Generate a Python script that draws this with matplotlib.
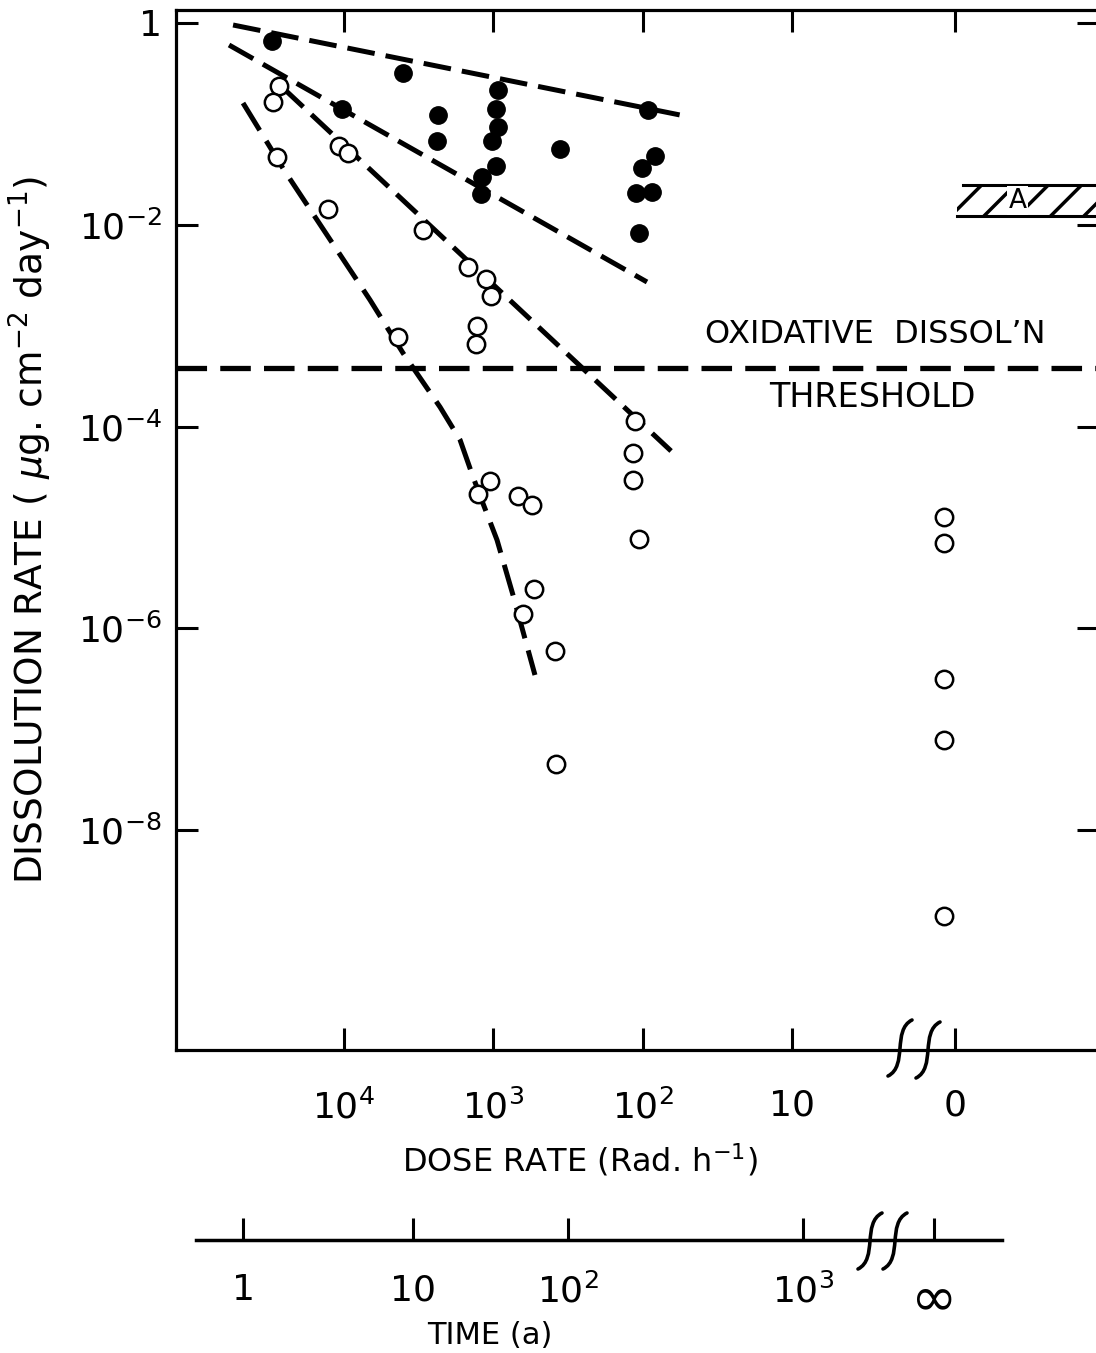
import matplotlib
matplotlib.use("Agg")
import matplotlib.pyplot as plt
from matplotlib.patches import Rectangle, PathPatch
from matplotlib.path import Path
from matplotlib.ticker import NullLocator

plt.rcParams['font.family'] = ['DejaVu Sans']
plt.rcParams['mathtext.fontset'] = 'dejavusans'
plt.rcParams['hatch.linewidth'] = 2.5
plt.rcParams['lines.scale_dashes'] = False

# ---------------- data (dose rate in Rad/h, dissolution rate in ug cm-2 day-1) -------------
FILLED_DOSE = [3.0e4, 1.02e4, 4.0e3, 2.33e3, 2.37e3, 926, 955, 926, 1020, 955, 1180, 1200,
               356, 91.9, 82.4, 101, 110, 86.3, 106]
FILLED_RATE = [0.663, 0.1406, 0.319, 0.1225, 0.0677, 0.217, 0.1406, 0.0932, 0.0677, 0.0383,
               0.0298, 0.0202, 0.0564, 0.1374, 0.0481, 0.0366, 0.0207, 0.0211, 0.0083]

OPEN_DOSE = [2.7e4, 2.95e4, 2.8e4, 1.27e4, 1.07e4, 9.3e3, 2.95e3, 1.47e3, 1.12e3, 1.03e3,
             1.28e3, 1.3e3, 4.3e3, 112, 115, 115, 106, 1.05e3, 1.26e3, 680, 550, 535, 630,
             385, 380]
OPEN_RATE = [0.238, 0.165, 0.047, 0.01435, 0.0604, 0.0515, 0.00888, 0.00382, 0.0029, 0.00197,
             0.00099, 6.6e-4, 7.7e-4, 1.14e-4, 5.5e-5, 2.96e-5, 7.7e-6, 2.9e-5, 2.15e-5,
             2.05e-5, 1.67e-5, 2.45e-6, 1.39e-6, 5.97e-7, 4.5e-8]

# samples at zero dose rate (drawn in the broken-axis "0" column)
ZERO_DOSE_POS = 0.955
ZERO_RATE = [1.27e-5, 7.0e-6, 3.15e-7, 7.8e-8, 1.41e-9]

LINE1_DOSE = [5.48e4, 48.1]
LINE1_RATE = [0.955, 0.117]
LINE2_DOSE = [5.83e4, 93.3]
LINE2_RATE = [0.605, 0.00271]
LINE3_DOSE = [2.54e4, 64.4]
LINE3_RATE = [0.227, 5.73e-5]
LINE4_DOSE = [4.70e4, 2.50e4, 6.65e3, 4.0e3, 2.26e3, 1.66e3, 1.36e3, 1.17e3, 940, 735, 524]
LINE4_RATE = [0.161, 0.0349, 1.80e-3, 5.36e-4, 1.56e-4, 7.36e-5, 3.17e-5, 1.75e-5, 7.52e-6,
              2.14e-6, 3.45e-7]

THRESHOLD_RATE = 3.81e-4
BOX_A_RATE = [0.0122, 0.0248]
BOX_A_DOSE_START = 0.787

DOSE_TICKS = [1e4, 1e3, 1e2, 10, 0.812]
DOSE_TICKLABELS = ['$10^4$', '$10^3$', '$10^2$', '10', '0']
RATE_TICKS = [1, 1e-2, 1e-4, 1e-6, 1e-8]
RATE_TICKLABELS = ['1', '$10^{-2}$', '$10^{-4}$', '$10^{-6}$', '$10^{-8}$']

# time scale, positioned at the equivalent dose rate
TIME_TICK_DOSE = [4.70e4, 3.43e3, 315, 8.44, 1.12]
TIME_TICKLABELS = ['1', '10', '$10^2$', '$10^3$', '\u221e']
TIME_LINE_DOSE = [9.7e4, 0.394]

XLIM = (1.3196e5, 0.08841)
YLIM = (6.63e-11, 1.345)

W, H = 1096, 1353
fig = plt.figure(figsize=(W / 100, H / 100), dpi=100)


def fx(x):
    return x / W


def fy(y):
    return 1 - y / H


ax = fig.add_axes([fx(176), fy(1050), (1099 - 176) / W, (1050 - 10) / H])
ax.set_xscale('log')
ax.set_yscale('log')
ax.set_xlim(*XLIM)
ax.set_ylim(*YLIM)
for s in ax.spines.values():
    s.set_linewidth(2.3)

ax.set_xticks(DOSE_TICKS)
ax.set_xticklabels(DOSE_TICKLABELS)
ax.set_yticks(RATE_TICKS)
ax.set_yticklabels(RATE_TICKLABELS)
ax.xaxis.set_minor_locator(NullLocator())
ax.yaxis.set_minor_locator(NullLocator())
ax.tick_params(axis='both', which='major', direction='in', length=16, width=2.2,
               top=True, right=True, labelsize=26)
ax.tick_params(axis='x', pad=28)
ax.tick_params(axis='y', pad=10)

# dashed fit lines
dash_kw = dict(color='black', lw=3.6, dashes=(20, 8), solid_capstyle='butt')
ax.plot(LINE1_DOSE, LINE1_RATE, **dash_kw)
ax.plot(LINE2_DOSE, LINE2_RATE, **dash_kw)
ax.plot(LINE3_DOSE, LINE3_RATE, **dash_kw)
ax.plot(LINE4_DOSE, LINE4_RATE, color='black', lw=3.6, dashes=(23, 9))

# threshold
ax.axhline(THRESHOLD_RATE, color='black', lw=3.8, dashes=(22, 9.5))

# data points
ax.plot(FILLED_DOSE, FILLED_RATE, 'o', color='black', ms=12.5, zorder=5)
ax.plot(OPEN_DOSE, OPEN_RATE, 'o', mfc='white', mec='black', mew=1.8, ms=12.5, zorder=5)
ax.plot([ZERO_DOSE_POS] * len(ZERO_RATE), ZERO_RATE, 'o', mfc='white', mec='black',
        mew=1.8, ms=12.5, zorder=5)

# hatched band "A"
rect = Rectangle((XLIM[1], BOX_A_RATE[0]), BOX_A_DOSE_START - XLIM[1],
                 BOX_A_RATE[1] - BOX_A_RATE[0], facecolor='white', edgecolor='black',
                 hatch='/', lw=0, zorder=3)
ax.add_patch(rect)
ax.plot([BOX_A_DOSE_START, XLIM[1]], [BOX_A_RATE[0]] * 2, color='black', lw=2.2, zorder=4)
ax.plot([0.72, XLIM[1]], [BOX_A_RATE[1]] * 2, color='black', lw=2.2, zorder=4)
ax.text(0.31, (BOX_A_RATE[0] * BOX_A_RATE[1]) ** 0.5, 'A', fontsize=19, ha='center',
        va='center', zorder=6,
        bbox=dict(facecolor='white', edgecolor='none', pad=1.0))

ax.text(2.79, 8.09e-4, 'OXIDATIVE  DISSOL\u2019N', fontsize=23, ha='center', va='center')
ax.text(2.92, 1.96e-4, 'THRESHOLD', fontsize=24, ha='center', va='center')

fig.text(fx(580), fy(1160), 'DOSE RATE (Rad. h$^{-1}$)', fontsize=23, ha='center',
         va='center')
fig.text(fx(30), fy(530), 'DISSOLUTION RATE ( $\\mu$g. cm$^{-2}$ day$^{-1}$)', fontsize=27,
         rotation=90, ha='center', va='center')

# time axis
ax2 = fig.add_axes([fx(176), fy(1240), (1099 - 176) / W, 0.004])
ax2.set_xscale('log')
ax2.set_xlim(*XLIM)
ax2.set_yticks([])
for k in ('top', 'left', 'right'):
    ax2.spines[k].set_visible(False)
ax2.spines['bottom'].set_linewidth(2.5)
ax2.spines['bottom'].set_bounds(*TIME_LINE_DOSE)
ax2.patch.set_visible(False)
ax2.set_xticks(TIME_TICK_DOSE)
ax2.set_xticklabels(TIME_TICKLABELS)
ax2.xaxis.set_minor_locator(NullLocator())
ax2.tick_params(axis='x', direction='in', length=16, width=2.2, labelsize=26, pad=24)
ax2.get_xticklabels()[-1].set_fontsize(40)
fig.text(fx(490), fy(1335), 'TIME (a)', fontsize=22, ha='center', va='center')


# axis-break marks
def break_mark(cx, cy):
    pts = [(12, -28), (-8, -18), (8, 18), (-12, 28)]
    verts = [(fx(cx + dx), fy(cy + dy)) for dx, dy in pts]
    p = Path(verts, [Path.MOVETO, Path.CURVE4, Path.CURVE4, Path.CURVE4])
    fig.add_artist(PathPatch(p, facecolor='none', edgecolor='black', lw=2.6,
                             transform=fig.transFigure, capstyle='round'))


break_mark(900, 1048)
break_mark(928, 1050)
break_mark(870, 1241)
break_mark(895, 1241)

fig.savefig('out.png', dpi=100)
